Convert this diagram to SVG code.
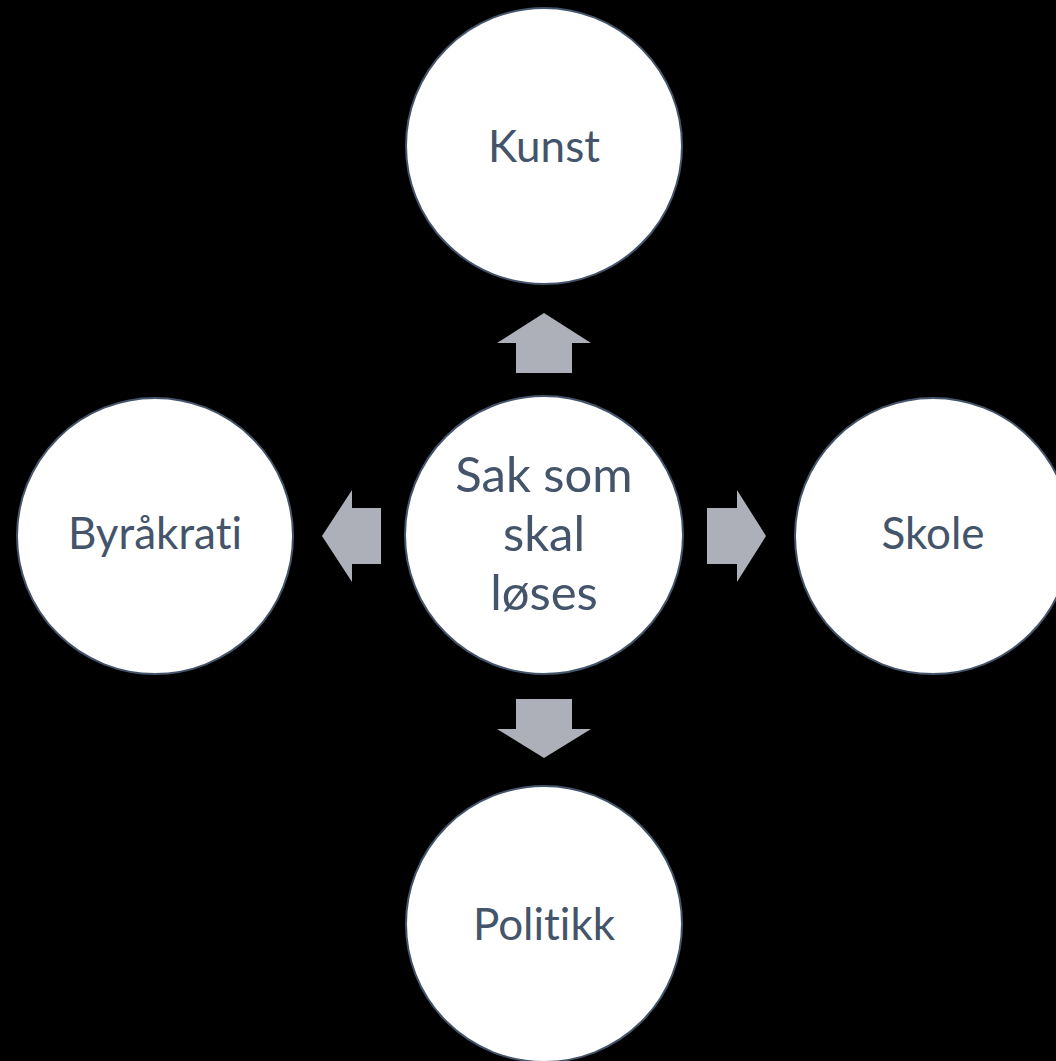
<svg xmlns="http://www.w3.org/2000/svg" width="1056" height="1061" viewBox="0 0 1056 1061">
<style>
.c{fill:#FFFFFF;stroke:#44546A;stroke-width:2}
.t{font-family:Lato,"Open Sans",sans-serif;fill:#44546A;text-anchor:middle;font-variant-ligatures:none;font-feature-settings:"liga" 0,"clig" 0,"dlig" 0}
.a{fill:#ADB0B8}
</style>
<rect width="1056" height="1061" fill="#000000"/>
<g id="connectors">
<polygon class="a" points="544,313 591,343 572,343 572,373 516,373 516,343 497,343"/>
<polygon class="a" points="322,536 352,490 352,508 381,508 381,564 352,564 352,582"/>
<polygon class="a" points="766,536 737,490 737,508 707,508 707,564 737,564 737,582"/>
<polygon class="a" points="544,758 591,729 572,729 572,699 516,699 516,729 497,729"/>
</g>
<g id="kunst"><circle class="c" cx="544" cy="146" r="138"/><text class="t" x="544" y="162" font-size="44">Kunst</text></g>
<g id="center"><circle class="c" cx="544" cy="535" r="139"/><text class="t" font-size="49"><tspan x="544" y="492">Sak som</tspan><tspan x="544" y="551">skal</tspan><tspan x="544" y="610">løses</tspan></text></g>
<g id="byrakrati"><circle class="c" cx="155" cy="536" r="138"/><text class="t" x="155" y="549" font-size="44">Byråkrati</text></g>
<g id="skole"><circle class="c" cx="933" cy="536" r="138"/><text class="t" x="933" y="549" font-size="44">Skole</text></g>
<g id="politikk"><circle class="c" cx="544" cy="924" r="138"/><text class="t" x="544" y="940" font-size="44">Politikk</text></g>
</svg>
